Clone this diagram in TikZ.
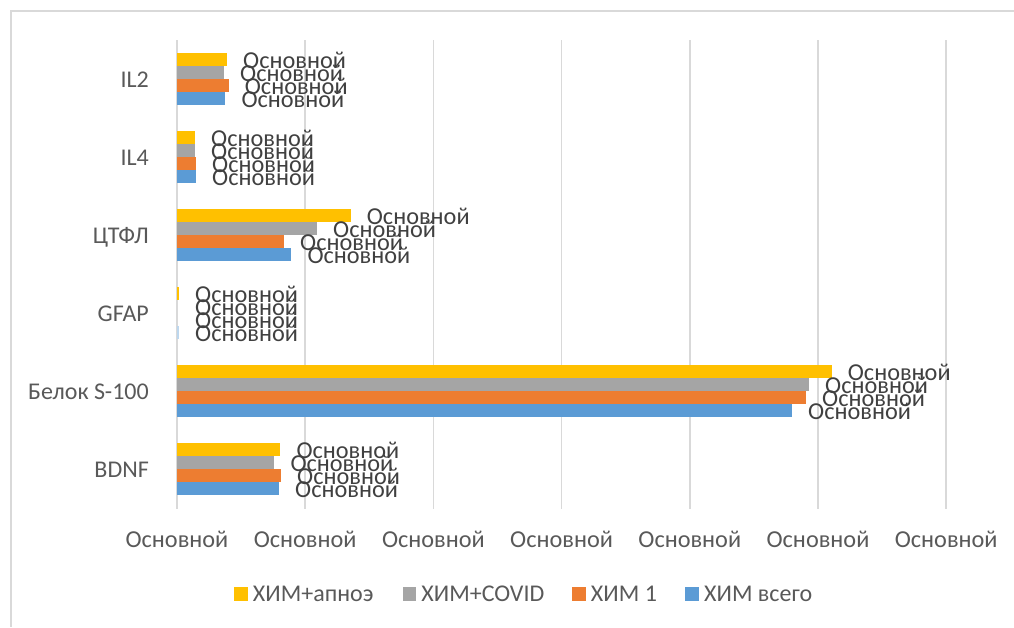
\documentclass[tikz,border=0pt]{standalone}
\usepackage{fontspec}
\setmainfont{Carlito}
\usetikzlibrary{positioning}
\definecolor{himapnoe}{RGB}{255,192,0}
\definecolor{himcovid}{RGB}{165,165,165}
\definecolor{himone}{RGB}{237,125,49}
\definecolor{himall}{RGB}{91,155,213}
\definecolor{axistext}{RGB}{89,89,89}
\definecolor{labeltext}{RGB}{64,64,64}
\definecolor{gridgray}{RGB}{217,217,217}

\begin{document}
\begin{tikzpicture}[
  x=1pt, y=-1pt,
  lbl/.style={font=\fontsize{24.3}{29}\selectfont, text=labeltext, inner sep=0pt, anchor=base west},
  ticklabel/.style={font=\fontsize{24.3}{29}\selectfont, text=axistext, inner sep=0pt, anchor=base},
  cat/.style={font=\fontsize{24}{29}\selectfont, text=axistext, inner sep=0pt, anchor=base east},
  legendkey/.style={minimum size=13.5pt, inner sep=0pt},
  legendtext/.style={font=\fontsize{24}{29}\selectfont, text=axistext, inner sep=0pt},
  gridline/.style={gridgray, line width=1.5pt},
]
\useasboundingbox (0,0) rectangle (1014,627);

% chart frame
\draw[gridgray, line width=1.5pt] (1014,11) -- (11,11) -- (11,627);

% grid and value axis
\foreach \k in {0,...,6} {
  \draw[gridline] ({177+128.2*\k},40) -- ({177+128.2*\k},509);
  \node[ticklabel] (tick\k) at ({177+128.2*\k},547.5) {Основной};
}

% IL2
\node[cat] (il2) at (149,87.7) {IL2};
\foreach \len/\col [count=\i] in {227/himapnoe, 224/himcovid, 228.7/himone, 225.3/himall} {
  \fill[\col] (177,{40+13*\i}) rectangle (\len,{53+13*\i});
  \node[lbl] (il2-\i) at ({\len+16},{55.5+13*\i}) {Основной};
}

% IL4
\node[cat] (il4) at (149,165.7) {IL4};
\foreach \len/\col [count=\i] in {195/himapnoe, 195/himcovid, 196/himone, 196/himall} {
  \fill[\col] (177,{118+13*\i}) rectangle (\len,{131+13*\i});
  \node[lbl] (il4-\i) at ({\len+16},{133.5+13*\i}) {Основной};
}

% CTFL
\node[cat] (ctfl) at (149,243.7) {ЦТФЛ};
\foreach \len/\col [count=\i] in {350.7/himapnoe, 317/himcovid, 284/himone, 291.3/himall} {
  \fill[\col] (177,{196+13*\i}) rectangle (\len,{209+13*\i});
  \node[lbl] (ctfl-\i) at ({\len+16},{211.5+13*\i}) {Основной};
}

% GFAP
\node[cat] (gfap) at (149,321.7) {GFAP};
\fill[himapnoe] (177,287) rectangle (179,300);
\fill[himall!40] (177,326) rectangle (178.5,339);
\foreach \i in {1,...,4}
  \node[lbl] (gfap-\i) at (195,{289.5+13*\i}) {Основной};

% S-100
\node[cat] (s100) at (149,399.7) {Белок S-100};
\foreach \len/\col [count=\i] in {831.7/himapnoe, 809/himcovid, 806/himone, 792/himall} {
  \fill[\col] (177,{352+13*\i}) rectangle (\len,{365+13*\i});
  \node[lbl] (s100-\i) at ({\len+16},{367.5+13*\i}) {Основной};
}

% BDNF
\node[cat] (bdnf) at (149,477.7) {BDNF};
\foreach \len/\col [count=\i] in {280.3/himapnoe, 274.3/himcovid, 281/himone, 279/himall} {
  \fill[\col] (177,{430+13*\i}) rectangle (\len,{443+13*\i});
  \node[lbl] (bdnf-\i) at ({\len+16},{445.5+13*\i}) {Основной};
}

% legend
\node[legendkey, fill=himapnoe] (kapnoe) at (240.8,593.8) {};
\node[legendtext, right=5pt of kapnoe] (tapnoe) {ХИМ+апноэ};
\node[legendkey, fill=himcovid] (kcovid) at (409.3,593.8) {};
\node[legendtext, right=5pt of kcovid] (tcovid) {ХИМ+COVID};
\node[legendkey, fill=himone] (kone) at (578.8,593.8) {};
\node[legendtext, right=5pt of kone] (tone) {ХИМ 1};
\node[legendkey, fill=himall] (kall) at (692,593.8) {};
\node[legendtext, right=5pt of kall] (tall) {ХИМ всего};
\end{tikzpicture}
\end{document}
